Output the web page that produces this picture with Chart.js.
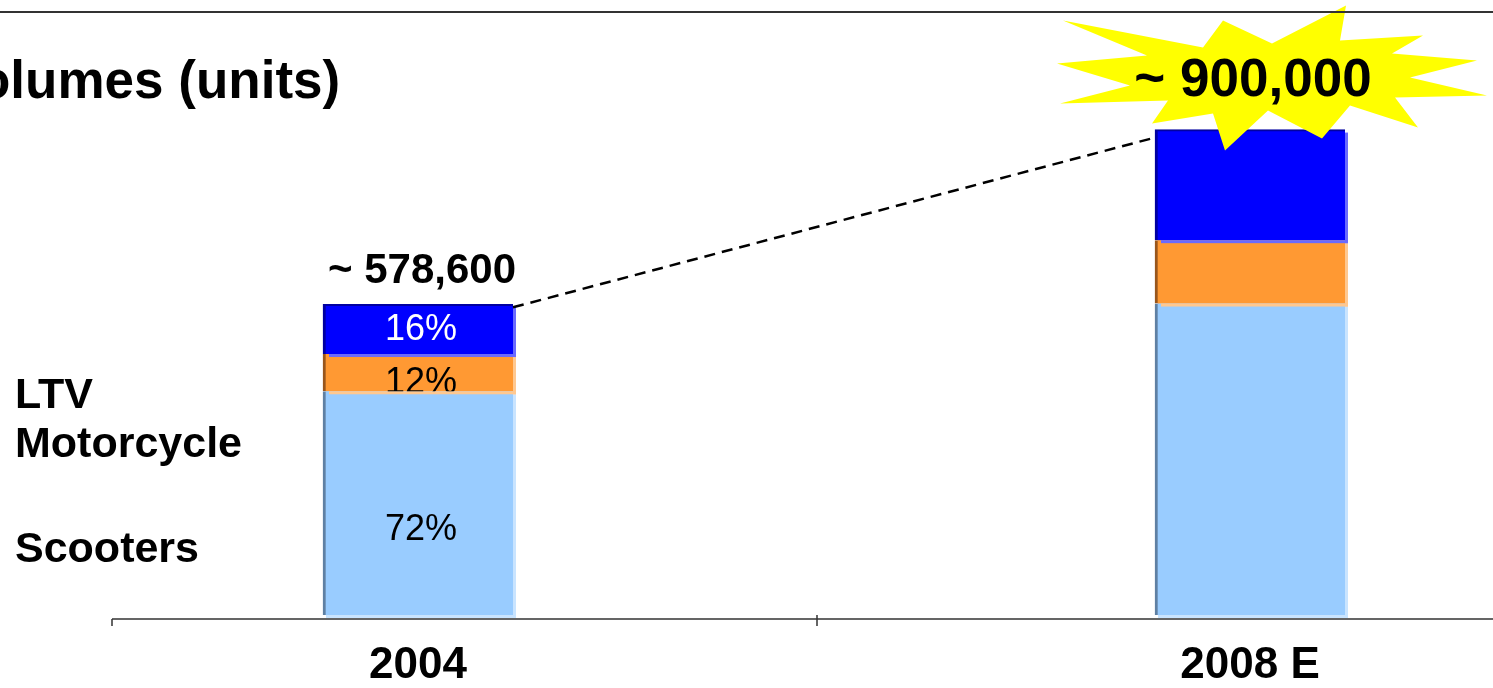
<!DOCTYPE html>
<html lang="en">
<head>
<meta charset="UTF-8" />
<title>Volumes (units)</title>
<script src="https://cdn.jsdelivr.net/npm/chart.js@4"></script>
<style>
  html, body { margin: 0; padding: 0; background: #fff; overflow: hidden; }
  canvas { display: block; }
</style>
</head>
<body>
<canvas id="volChart" width="1493" height="688"></canvas>
<script>
  // values
  const years = ['2004', '2008 E'];
  const seriesNames = ['Scooters', 'Motorcycle', 'LTV'];
  const scooters = [416600, 580000];
  const motorcycles = [69400, 118000];
  const ltv = [92600, 206000];
  const scooterShare = ['72%', ''];
  const motorcycleShare = ['12%', ''];
  const ltvShare = ['16%', ''];
  const totals = ['~ 578,600', '~ 900,000'];
  const titleText = 'olumes (units)';

  const FONT = '"Liberation Sans", Arial, Helvetica, sans-serif';
  Chart.defaults.font.family = FONT;

  const fills = ['#99CCFF', '#FF9933', '#0000FF'];
  const edges = ['#5F80A3', '#99561C', '#0000A0'];
  const glows = ['#C9E4FF', '#FFC890', '#6A6AFF'];
  const shareColors = ['#000', '#000', '#fff'];
  const shareNudge = [27, 10, 1];
  const legendBaselines = [562, 457, 408];

  // star burst outline, relative to the top of the 2008 bar
  const starOutline = [[-27,-109],[22,-86],[96,-124],[90,-89],[173,-94],[142,-76],[227,-69],[160,-52],
    [237,-34],[145,-32],[168,-2],[100,-24],[72,9],[18,-19],[-25,21],[-37,-16],[-98,-6],[-82,-29],
    [-190,-26],[-120,-44],[-193,-66],[-103,-74],[-187,-109],[-47,-82]];

  function box(el) {
    const p = el.getProps(['x', 'y', 'base', 'width'], true);
    return { left: p.x - p.width / 2, right: p.x + p.width / 2, top: p.y, bottom: p.base, x: p.x };
  }

  const decor = {
    id: 'decor',
    beforeDatasetsDraw(chart) {
      const ctx = chart.ctx;
      ctx.save();
      chart.data.datasets.forEach((ds, i) => {
        chart.getDatasetMeta(i).data.forEach(el => {
          const b = box(el);
          ctx.fillStyle = glows[i];
          ctx.fillRect(b.left + 3, b.top + 3, b.right - b.left, b.bottom - b.top);
        });
      });
      ctx.restore();
    },
    afterDatasetsDraw(chart) {
      const ctx = chart.ctx;
      const shares = [scooterShare, motorcycleShare, ltvShare];
      ctx.save();

      // light strip that each upper block casts on the one below
      for (let i = 1; i < chart.data.datasets.length; i++) {
        chart.getDatasetMeta(i).data.forEach(el => {
          const b = box(el);
          ctx.fillStyle = glows[i];
          ctx.fillRect(b.left + 6, b.bottom, b.right - b.left - 3, 3);
        });
      }

      // share labels, clipped to their block
      ctx.textAlign = 'center';
      ctx.textBaseline = 'middle';
      ctx.font = '36px ' + FONT;
      shares.forEach((arr, i) => {
        chart.getDatasetMeta(i).data.forEach((el, j) => {
          if (!arr[j]) return;
          const b = box(el);
          ctx.save();
          ctx.beginPath();
          ctx.rect(b.left, b.top, b.right - b.left, b.bottom - b.top);
          ctx.clip();
          ctx.fillStyle = shareColors[i];
          ctx.fillText(arr[j], b.x + 3, (b.top + b.bottom) / 2 + shareNudge[i]);
          ctx.restore();
        });
      });

      const topMeta = chart.getDatasetMeta(chart.data.datasets.length - 1);
      const first = box(topMeta.data[0]);
      const last = box(topMeta.data[1]);

      // dashed growth line
      ctx.beginPath();
      ctx.setLineDash([11, 7]);
      ctx.lineWidth = 2.5;
      ctx.strokeStyle = '#000';
      ctx.moveTo(first.right, first.top + 3);
      ctx.lineTo(last.left, last.top + 8);
      ctx.stroke();
      ctx.setLineDash([]);

      // total over 2004
      ctx.fillStyle = '#000';
      ctx.font = 'bold 42px ' + FONT;
      ctx.textBaseline = 'alphabetic';
      ctx.fillText(totals[0], first.x + 4, first.top - 21);

      // star burst with the 2008 total
      ctx.beginPath();
      starOutline.forEach(([dx, dy], k) => {
        const px = last.x + dx, py = last.top + dy;
        if (k === 0) ctx.moveTo(px, py); else ctx.lineTo(px, py);
      });
      ctx.closePath();
      ctx.fillStyle = '#FFFF00';
      ctx.fill();
      ctx.fillStyle = '#000';
      ctx.font = 'bold 53px ' + FONT;
      ctx.fillText(totals[1], last.x + 3, last.top - 34);

      // base axis with its two tick marks
      ctx.strokeStyle = '#333';
      ctx.lineWidth = 1.5;
      ctx.beginPath();
      ctx.moveTo(112, 619); ctx.lineTo(1493, 619);
      ctx.moveTo(112, 619); ctx.lineTo(112, 626);
      ctx.moveTo(817, 615); ctx.lineTo(817, 626);
      ctx.stroke();

      // rule across the top of the slide
      ctx.lineWidth = 2;
      ctx.beginPath();
      ctx.moveTo(0, 12); ctx.lineTo(1493, 12);
      ctx.stroke();

      // title, cut at the left edge
      ctx.textAlign = 'left';
      ctx.font = 'bold 53px ' + FONT;
      ctx.fillText(titleText, -22, 98);

      // series names on the left
      ctx.font = 'bold 43px ' + FONT;
      seriesNames.forEach((name, i) => ctx.fillText(name, 15, legendBaselines[i]));

      ctx.restore();
    }
  };

  function series(i, values) {
    return {
      label: seriesNames[i],
      data: values,
      backgroundColor: fills[i],
      borderColor: edges[i],
      borderWidth: { left: 3, top: i === 2 ? 2 : 0, right: 0, bottom: 0 },
      borderSkipped: false,
      barThickness: 190,
      clip: false
    };
  }

  new Chart(document.getElementById('volChart'), {
    type: 'bar',
    data: {
      labels: years,
      datasets: [series(0, scooters), series(1, motorcycles), series(2, ltv)]
    },
    options: {
      responsive: false,
      animation: false,
      devicePixelRatio: 1,
      layout: { padding: { left: 418, right: 243, top: 78, bottom: 0 } },
      plugins: { legend: { display: false }, tooltip: { enabled: false } },
      scales: {
        x: {
          stacked: true,
          offset: false,
          grid: { display: false, drawTicks: false },
          border: { display: false },
          ticks: {
            color: '#000',
            font: { size: 44, weight: 'bold' },
            padding: 24,
            maxRotation: 0,
            autoSkip: false
          },
          afterFit(scale) { scale.height = 73; }
        },
        y: { stacked: true, display: false, min: 0, max: 1000000 }
      }
    },
    plugins: [decor]
  });
</script>
</body>
</html>
